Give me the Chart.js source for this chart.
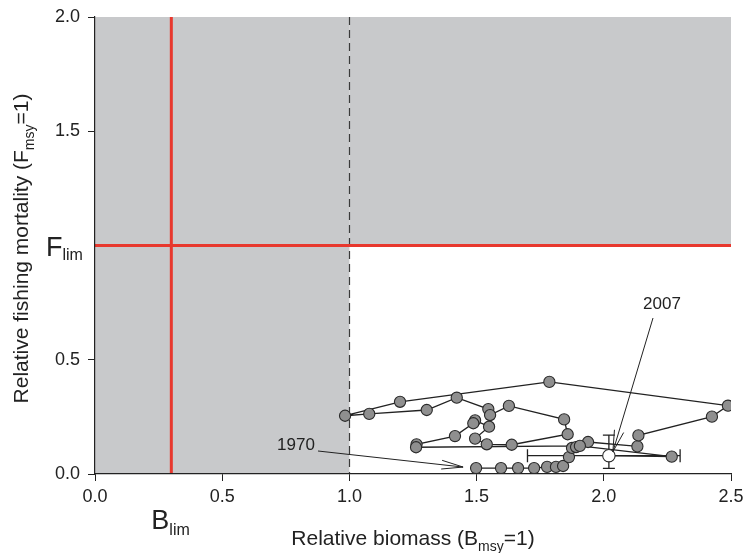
<!DOCTYPE html>
<html>
<head>
<meta charset="utf-8">
<script src="https://cdn.jsdelivr.net/npm/chart.js@4/dist/chart.umd.min.js"></script>
<style>
  html, body { margin: 0; padding: 0; background: #ffffff; }
  #wrap { width: 743px; height: 553px; }
</style>
</head>
<body>
<div id="wrap"><canvas id="c" width="743" height="553"></canvas></div>
<script>
// Stock trajectory, 1970-2007: relative biomass (B/Bmsy) vs relative fishing mortality (F/Fmsy)
const years = [1970, 1971, 1972, 1973, 1974, 1975, 1976, 1977, 1978, 1979,
               1980, 1981, 1982, 1983, 1984, 1985, 1986, 1987, 1988, 1989,
               1990, 1991, 1992, 1993, 1994, 1995, 1996, 1997, 1998, 1999,
               2000, 2001, 2002, 2003, 2004, 2005, 2006, 2007];
const biomass = [1.498, 1.596, 1.663, 1.726, 1.777, 1.812, 1.840, 1.863, 1.875, 1.891,
                 1.938, 2.132, 2.136, 2.425, 2.488, 1.786, 1.199, 0.983, 1.078, 1.304,
                 1.422, 1.546, 1.553, 1.627, 1.844, 1.858, 1.638, 1.540, 1.494, 1.549,
                 1.494, 1.487, 1.415, 1.264, 1.262, 1.906, 2.267, 2.020];
const fishing = [0.026, 0.026, 0.026, 0.026, 0.031, 0.031, 0.035, 0.074, 0.114, 0.118,
                 0.140, 0.121, 0.169, 0.251, 0.299, 0.403, 0.316, 0.255, 0.263, 0.280,
                 0.334, 0.284, 0.258, 0.298, 0.239, 0.174, 0.128, 0.130, 0.155, 0.207,
                 0.235, 0.222, 0.166, 0.130, 0.117, 0.123, 0.076, 0.080];

// Uncertainty of the final-year estimate
const biomassInterval = [1.70, 2.30];
const fishingInterval = [0.025, 0.17];

// Reference points
const bLim = 0.3;
const fLim = 1.0;
const bMsy = 1.0;

// Axis ticks
const xTickValues = [0, 0.5, 1.0, 1.5, 2.0, 2.5];
const yTickValues = [0, 0.5, 1.0, 1.5, 2.0];
const yHiddenTick = 1.0;   // replaced by the F_lim label

const FONT = '"Liberation Sans", Arial, Helvetica, sans-serif';
const INK = '#222222';
const SHADE = '#c8c9cb';
const RED = '#e8382e';

const lastIdx = years.length - 1;
const points = years.map((yr, i) => ({ x: biomass[i], y: fishing[i] }));

// Draws text with a subscripted part: parts = [[text, isSub], ...]
function drawRich(ctx, parts, x, y, big, small, align, drop) {
  const widths = parts.map(([t, sub]) => {
    ctx.font = (sub ? small : big) + 'px ' + FONT;
    return ctx.measureText(t).width;
  });
  const total = widths.reduce((a, b) => a + b, 0);
  let cx = align === 'center' ? x - total / 2 : x;
  const off = drop === undefined ? big * 0.27 : drop;
  ctx.textAlign = 'left';
  parts.forEach(([t, sub], i) => {
    ctx.font = (sub ? small : big) + 'px ' + FONT;
    ctx.fillText(t, cx, sub ? y + off : y);
    cx += widths[i];
  });
}

function arrow(ctx, x0, y0, x1, y1, head, spread) {
  ctx.beginPath();
  ctx.moveTo(x0, y0);
  ctx.lineTo(x1, y1);
  const ang = Math.atan2(y1 - y0, x1 - x0);
  ctx.moveTo(x1 - head * Math.cos(ang - spread), y1 - head * Math.sin(ang - spread));
  ctx.lineTo(x1, y1);
  ctx.lineTo(x1 - head * Math.cos(ang + spread), y1 - head * Math.sin(ang + spread));
  ctx.stroke();
}

const zones = {
  id: 'zones',
  beforeDraw(chart) {
    const { ctx, scales: { x, y } } = chart;
    const xl = x.getPixelForValue(x.min), xm = x.getPixelForValue(bMsy), xr = x.getPixelForValue(x.max);
    const yb = y.getPixelForValue(y.min), yf = y.getPixelForValue(fLim), yt = y.getPixelForValue(y.max);
    ctx.save();
    ctx.fillStyle = SHADE;
    ctx.fillRect(xl, yt, xm - xl, yb - yt);
    ctx.fillRect(xm, yt, xr - xm, yf - yt);

    // Bmsy dashed line
    ctx.strokeStyle = '#3a3a3a';
    ctx.lineWidth = 1.2;
    ctx.setLineDash([8, 5]);
    ctx.beginPath();
    ctx.moveTo(Math.round(xm) + 0.5, yt);
    ctx.lineTo(Math.round(xm) + 0.5, yb);
    ctx.stroke();
    ctx.setLineDash([]);

    // Limit reference lines
    ctx.strokeStyle = RED;
    ctx.lineWidth = 3;
    const xb = x.getPixelForValue(bLim);
    ctx.beginPath();
    ctx.moveTo(xb, yt);
    ctx.lineTo(xb, yb);
    ctx.moveTo(xl, yf);
    ctx.lineTo(xr, yf);
    ctx.stroke();
    ctx.restore();
  },
  beforeDatasetsDraw(chart) {
    const { ctx, scales: { x, y } } = chart;
    const cx = x.getPixelForValue(biomass[lastIdx]);
    const cy = y.getPixelForValue(fishing[lastIdx]);
    const bx0 = x.getPixelForValue(biomassInterval[0]), bx1 = x.getPixelForValue(biomassInterval[1]);
    const fy0 = y.getPixelForValue(fishingInterval[0]), fy1 = y.getPixelForValue(fishingInterval[1]);
    ctx.save();
    ctx.strokeStyle = INK;
    ctx.lineWidth = 1.3;
    ctx.beginPath();
    ctx.moveTo(bx0, cy); ctx.lineTo(bx1, cy);
    ctx.moveTo(bx0, cy - 6.5); ctx.lineTo(bx0, cy + 6.5);
    ctx.moveTo(bx1, cy - 6.5); ctx.lineTo(bx1, cy + 6.5);
    ctx.moveTo(cx, fy0); ctx.lineTo(cx, fy1);
    ctx.moveTo(cx - 6, fy0); ctx.lineTo(cx + 6, fy0);
    ctx.moveTo(cx - 6, fy1); ctx.lineTo(cx + 6, fy1);
    ctx.stroke();
    ctx.restore();
  },
  afterDraw(chart) {
    const { ctx, chartArea: a, scales: { x, y } } = chart;
    ctx.save();
    ctx.fillStyle = INK;
    ctx.textBaseline = 'alphabetic';

    // Axis titles
    drawRich(ctx, [['Relative biomass (B', false], ['msy', true], ['=1)', false]],
             (a.left + a.right) / 2, 545, 21, 14, 'center');
    ctx.save();
    ctx.translate(28, (a.top + a.bottom) / 2 + 3);
    ctx.rotate(-Math.PI / 2);
    drawRich(ctx, [['Relative fishing mortality (F', false], ['msy', true], ['=1)', false]],
             0, 0, 21, 14, 'center');
    ctx.restore();

    // Reference point labels
    drawRich(ctx, [['F', false], ['lim', true]], 46, y.getPixelForValue(fLim) + 10, 27, 16, 'left', 4);
    drawRich(ctx, [['B', false], ['lim', true]], x.getPixelForValue(bLim) - 20, 529, 27, 16, 'left', 6);

    // Year annotations
    ctx.font = '17px ' + FONT;
    ctx.textAlign = 'center';
    const px0 = x.getPixelForValue(biomass[0]), py0 = y.getPixelForValue(fishing[0]);
    ctx.fillText(String(years[0]), 296, 450);
    const pxN = x.getPixelForValue(biomass[lastIdx]), pyN = y.getPixelForValue(fishing[lastIdx]);
    ctx.fillText(String(years[lastIdx]), 662, 309);
    ctx.strokeStyle = INK;
    ctx.lineWidth = 1;
    arrow(ctx, 318, 451, px0 - 13, py0 - 1, 22, 0.2);
    arrow(ctx, 653, 318, pxN + 4, pyN - 4, 22, 0.22);
    ctx.restore();
  }
};

new Chart(document.getElementById('c'), {
  type: 'scatter',
  data: {
    datasets: [{
      data: points,
      showLine: true,
      borderColor: INK,
      borderWidth: 1.3,
      pointRadius: years.map((_, i) => i === lastIdx ? 6.2 : 5.6),
      pointBorderWidth: 1.1,
      pointBorderColor: '#2a2a2a',
      pointBackgroundColor: years.map((_, i) => i === lastIdx ? '#ffffff' : '#8f8f8f'),
      tension: 0
    }]
  },
  plugins: [zones],
  options: {
    responsive: false,
    animation: false,
    events: [],
    layout: { padding: { top: 17, right: 12, left: 0, bottom: 0 } },
    plugins: { legend: { display: false }, tooltip: { enabled: false } },
    scales: {
      x: {
        type: 'linear',
        min: 0, max: 2.5,
        afterBuildTicks: s => { s.ticks = xTickValues.map(v => ({ value: v })); },
        afterFit: s => { s.height = 79; s.paddingLeft = 0; s.paddingRight = 0; },
        grid: { display: true, drawOnChartArea: false, drawTicks: true, tickLength: 7, color: INK, lineWidth: 1 },
        border: { display: true, color: INK, width: 1.2 },
        ticks: {
          padding: 5, color: INK, maxRotation: 0, autoSkip: false,
          font: { family: FONT, size: 18 },
          callback: v => Number(v).toFixed(1)
        }
      },
      y: {
        type: 'linear',
        min: 0, max: 2.0,
        afterBuildTicks: s => { s.ticks = yTickValues.map(v => ({ value: v })); },
        afterFit: s => { s.width = 95; s.paddingTop = 0; s.paddingBottom = 0; },
        grid: {
          display: true, drawOnChartArea: false, drawTicks: true, tickLength: 7, lineWidth: 1,
          color: c => (c.tick && c.tick.value === yHiddenTick) ? 'rgba(0,0,0,0)' : INK
        },
        border: { display: true, color: INK, width: 1.2 },
        ticks: {
          padding: 8, color: INK, autoSkip: false,
          font: { family: FONT, size: 18 },
          callback: v => v === yHiddenTick ? '' : Number(v).toFixed(1)
        }
      }
    }
  }
});
</script>
</body>
</html>
